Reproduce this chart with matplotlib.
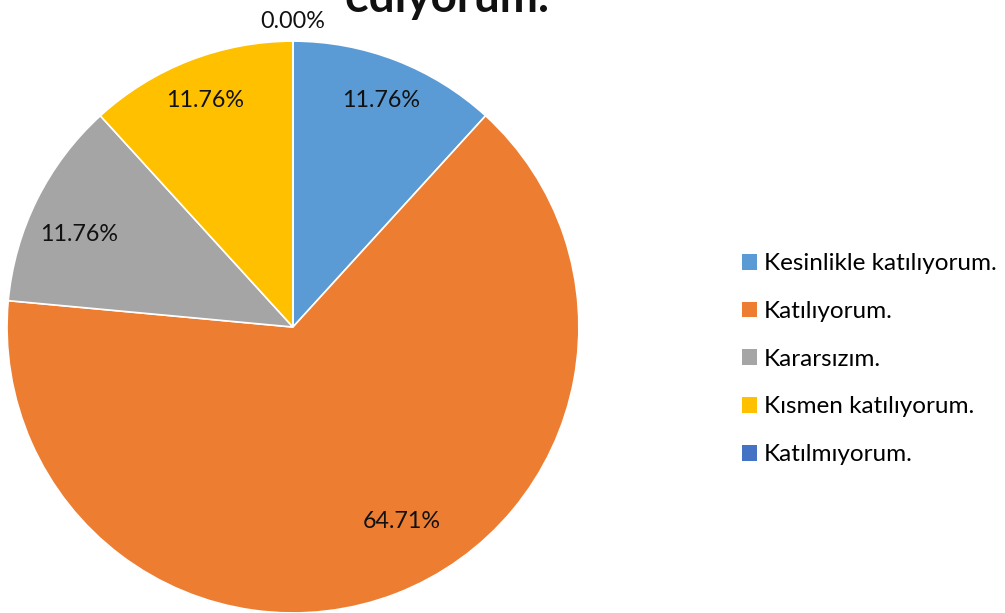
import numpy as np
import matplotlib
matplotlib.use("Agg")
import matplotlib.pyplot as plt
from matplotlib.patches import Patch

plt.rcParams['font.family'] = ['Lato', 'DejaVu Sans']

categories = ["Kesinlikle katılıyorum.", "Katılıyorum.", "Kararsızım.",
              "Kısmen katılıyorum.", "Katılmıyorum."]
counts = [2, 11, 2, 2, 0]
colors = ["#5B9BD5", "#ED7D31", "#A5A5A5", "#FFC000", "#4472C4"]
title_tail = "ediyorum."

# label placement: radial distance (fraction of radius) and angular nudge (deg)
label_radius = [0.85, 0.78, 0.815, 0.85, 1.07]
label_nudge = [0, 8, 3, 0, 0]

fig = plt.figure(figsize=(10.05, 6.13), dpi=100)
ax = fig.add_axes([0.007, 0.0, 0.569, 0.933])

total = sum(counts)
wedges, _ = ax.pie(counts, colors=colors, startangle=90, counterclock=False,
                   wedgeprops=dict(edgecolor="white", linewidth=1.2))
ax.set_xlim(-1, 1)
ax.set_ylim(-1, 1)
ax.set_aspect("equal")
ax.axis("off")

for w, c, r, nd in zip(wedges, counts, label_radius, label_nudge):
    ang = np.deg2rad((w.theta1 + w.theta2) / 2 + nd)
    ax.text(r * np.cos(ang), r * np.sin(ang), f"{100 * c / total:.2f}%",
            ha="center", va="center", fontsize=16.8, color="#111111",
            clip_on=False)

fig.text(0.445, 1 - 12 / 613, title_tail, ha="center", va="baseline",
         fontsize=33, fontweight="bold", color="#111111")

handles = [Patch(facecolor=col, edgecolor="none") for col in colors]
fig.legend(handles, categories, loc="center left",
           bbox_to_anchor=(0.733, 0.414), frameon=False, fontsize=17.5,
           handlelength=0.62, handleheight=0.62, handletextpad=0.3,
           labelspacing=1.1, borderaxespad=0, borderpad=0.2)

fig.savefig("out.png", dpi=100)
